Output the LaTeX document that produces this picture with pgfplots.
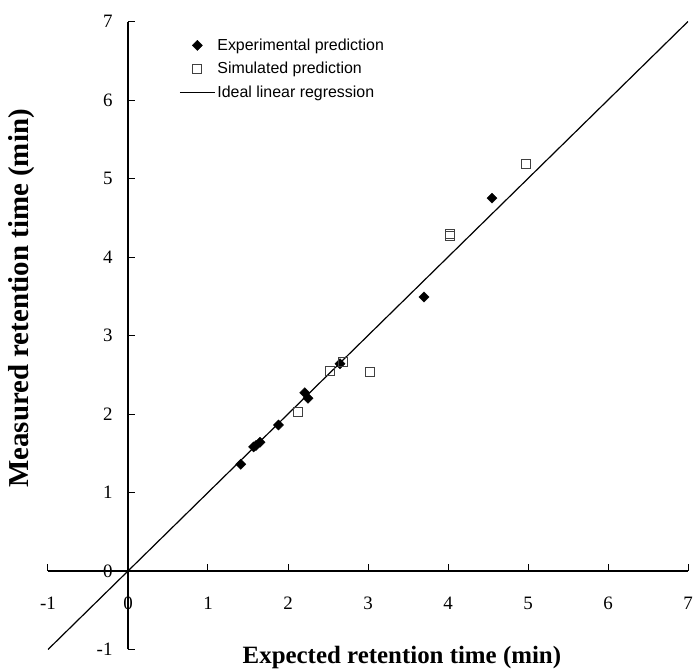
\documentclass[border=0pt]{standalone}
\usepackage{fontspec}
\setmainfont{Liberation Serif}
\newfontfamily\legfont{Liberation Sans}
\usepackage{pgfplots}
\pgfplotsset{compat=1.18}

\begin{document}
\begin{tikzpicture}
\useasboundingbox (-48bp,-20.5bp) rectangle (645bp,649.5bp);
\begin{axis}[
  at={(0,0)}, anchor=south west,
  scale only axis,
  width=640bp, height=628bp,
  xmin=-1, xmax=7, ymin=-1, ymax=7,
  axis lines=middle,
  axis line style={-, line width=1.1bp},
  xtick={-1,0,...,7}, ytick={-1,0,...,7},
  hide obscured x ticks=false, hide obscured y ticks=false,
  tick align=inside,
  major tick length=7bp,
  tick style={line width=1bp, black},
  ticklabel style={font=\fontsize{19}{19}\selectfont},
  /pgf/number format/assume math mode=true,
  xticklabel style={anchor=center, yshift=-32bp},
  yticklabel style={anchor=east, xshift=-12bp},
  every axis x label/.style={at={(axis description cs:0.553,-0.012)}, anchor=center,
    font=\fontsize{25}{25}\selectfont\bfseries},
  every axis y label/.style={at={(axis description cs:-0.041,0.559)}, anchor=center, rotate=90,
    font=\fontsize{29}{29}\selectfont\bfseries},
  xlabel={Expected retention time (min)},
  ylabel={Measured retention time (min)},
  legend style={draw=none, fill=none, font=\legfont\fontsize{16}{16}\selectfont,
    at={(axis description cs:0.2,0.979)}, anchor=north west,
    row sep=6.5bp, cells={anchor=west}},
  legend image code/.code={\draw[mark repeat=2,mark phase=2,#1] plot coordinates {(0bp,0bp)(17.5bp,0bp)(35bp,0bp)};},
]
% experimental prediction
\addplot[only marks, mark=square*, mark size=3.6bp,
  mark options={rotate=45, fill=black, draw=black}] coordinates {
  (1.41,1.36) (1.57,1.58) (1.60,1.60) (1.65,1.64) (1.88,1.86)
  (2.21,2.27) (2.25,2.20) (2.65,2.64) (3.70,3.49) (4.55,4.75)
};
\addlegendentry{Experimental prediction}
% simulated prediction
\addplot[only marks, mark=square, mark size=4.5bp,
  mark options={draw=black!75, fill=white, line width=1bp}] coordinates {
  (2.12,2.02) (2.52,2.55) (2.69,2.66) (3.03,2.54)
  (4.02,4.27) (4.03,4.29) (4.98,5.19)
};
\addlegendentry{Simulated prediction}
% ideal y = x
\addplot[black, line width=1.2bp, no marks] coordinates {(-1,-1) (7,7)};
\addlegendentry{Ideal linear regression}
\end{axis}
\end{tikzpicture}
\end{document}
